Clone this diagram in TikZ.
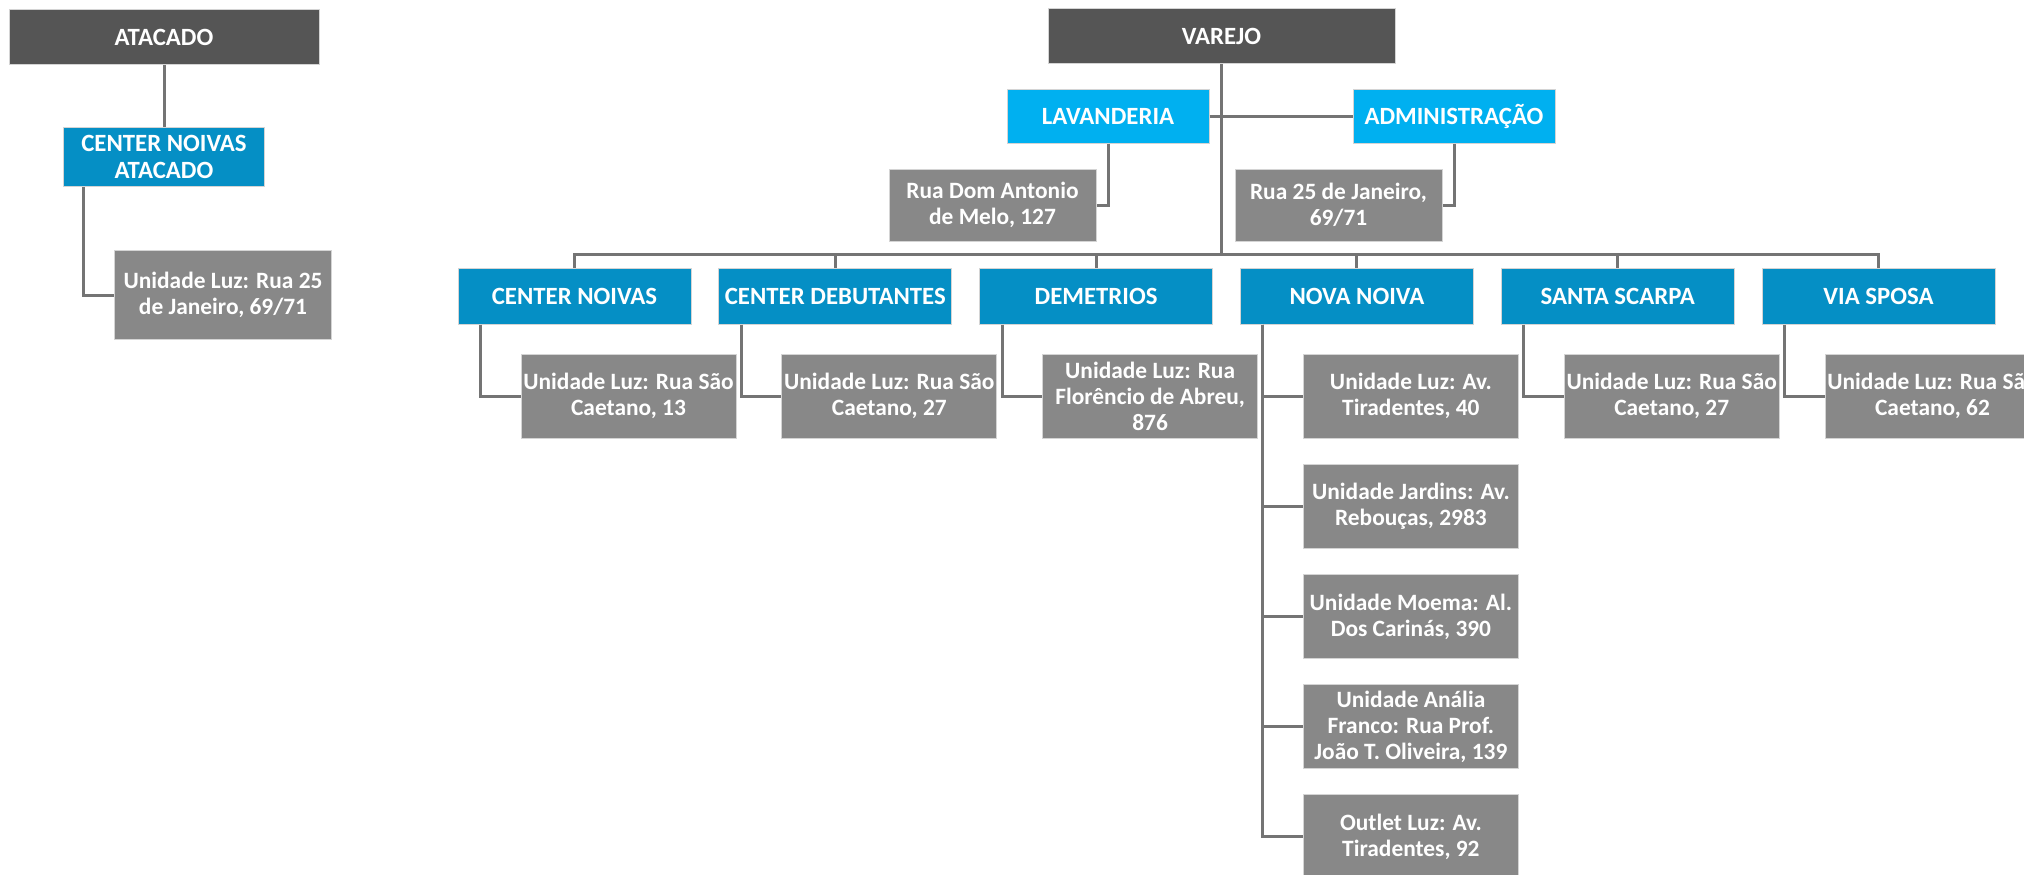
\documentclass[tikz,border=0pt]{standalone}
\usepackage{fontspec}
\setmainfont{Carlito}
\usetikzlibrary{positioning}

\definecolor{headgray}{HTML}{555555}
\definecolor{unitblue}{HTML}{058FC5}
\definecolor{lightblue}{HTML}{00B0F0}
\definecolor{addrgray}{HTML}{888888}
\definecolor{linegray}{HTML}{747474}
\definecolor{edgegray}{HTML}{D4D4D4}

\begin{document}
\begin{tikzpicture}[x=0.5pt, y=-0.5pt,
    box/.style = {inner sep=0pt, text=white, align=center, draw=edgegray, line width=0.5pt,
                  font=\fontsize{12.4}{13.6}\selectfont\bfseries},
    head/.style = {box, fill=headgray, minimum height=27.5pt},
    unit/.style = {box, fill=unitblue, minimum width=116.5pt, minimum height=28pt},
    dept/.style = {box, fill=lightblue, minimum width=101pt, minimum height=27pt},
    addr/.style = {box, fill=addrgray, minimum width=107.5pt, minimum height=42pt,
                   font=\fontsize{11.7}{13}\selectfont\bfseries},
    link/.style = {draw=linegray, line width=1.5pt}]

    \useasboundingbox (0,0) rectangle (2024,874);
    \clip (0,0) rectangle (2024,874);

    % atacado
    \node (ata) [head, minimum width=155pt] at (164,37) {ATACADO};
    \node (cna) [box, fill=unitblue, minimum width=100.5pt, minimum height=29.5pt,
                 below=31pt of ata] {CENTER NOIVAS\\ATACADO};
    \node (cna-a) [addr, minimum width=108.5pt, minimum height=44.5pt,
                   below=31.5pt of cna.south west, anchor=north west, xshift=25.5pt]
                   {Unidade Luz: Rua 25\\de Janeiro, 69/71};

    \draw [link] (ata) -- (cna);
    \draw [link] ([xshift=10pt]cna.south west) |- (cna-a.west);

    % varejo
    \node (var) [head, minimum width=173.5pt] at (1221.5,36) {VAREJO};
    \node (lav) [dept] at (1108,116) {LAVANDERIA};
    \node (adm) [dept] at (1454,116) {ADMINISTRAÇÃO};
    \node (lav-a) [addr, minimum width=103.5pt, minimum height=36pt] at (992.5,205)
                  {Rua Dom Antonio\\de Melo, 127};
    \node (adm-a) [addr, minimum width=103.5pt, minimum height=36pt] at (1338.5,205)
                  {Rua 25 de Janeiro,\\69/71};

    \draw [link] (lav) -- (adm);
    \draw [link] (lav.south) |- (lav-a.east);
    \draw [link] (adm.south) |- (adm-a.east);

    % lojas
    \node (cn) [unit] at (574.5,296) {CENTER NOIVAS};
    \node (cd) [unit, right=13.4pt of cn] {CENTER DEBUTANTES};
    \node (dm) [unit, right=13.4pt of cd] {DEMETRIOS};
    \node (nn) [unit, right=13.4pt of dm] {NOVA NOIVA};
    \node (ss) [unit, right=13.4pt of nn] {SANTA SCARPA};
    \node (vs) [unit, right=13.4pt of ss] {VIA SPOSA};

    \coordinate (bus) at ([yshift=-95pt]var.south);
    \draw [link] (var) -- (bus);
    \foreach \n in {cn,cd,dm,nn,ss,vs}
        \draw [link] (bus) -| (\n.north);

    % enderecos
    \node (cn-a) [addr, below=14.5pt of cn.south west, anchor=north west, xshift=31.5pt]
                 {Unidade Luz: Rua São\\Caetano, 13};
    \node (cd-a) [addr, below=14.5pt of cd.south west, anchor=north west, xshift=31.5pt]
                 {Unidade Luz: Rua São\\Caetano, 27};
    \node (dm-a) [addr, below=14.5pt of dm.south west, anchor=north west, xshift=31.5pt]
                 {Unidade Luz: Rua\\Florêncio de Abreu,\\876};
    \node (ss-a) [addr, below=14.5pt of ss.south west, anchor=north west, xshift=31.5pt]
                 {Unidade Luz: Rua São\\Caetano, 27};
    \node (vs-a) [addr, below=14.5pt of vs.south west, anchor=north west, xshift=31.5pt]
                 {Unidade Luz: Rua São\\Caetano, 62};

    \node (nn-a) [addr, below=14.5pt of nn.south west, anchor=north west, xshift=31.5pt]
                 {Unidade Luz: Av.\\Tiradentes, 40};
    \node (nn-b) [addr, below=12.6pt of nn-a] {Unidade Jardins: Av.\\Rebouças, 2983};
    \node (nn-c) [addr, below=12.6pt of nn-b] {Unidade Moema: Al.\\Dos Carinás, 390};
    \node (nn-d) [addr, below=12.6pt of nn-c] {Unidade Anália\\Franco: Rua Prof.\\João T. Oliveira, 139};
    \node (nn-e) [addr, below=12.6pt of nn-d] {Outlet Luz: Av.\\Tiradentes, 92};

    \foreach \n in {cn,cd,dm,ss,vs}
        \draw [link] ([xshift=11.5pt]\n.south west) |- (\n-a.west);
    \foreach \k in {a,b,c,d,e}
        \draw [link] ([xshift=11.5pt]nn.south west) |- (nn-\k.west);
\end{tikzpicture}
\end{document}
